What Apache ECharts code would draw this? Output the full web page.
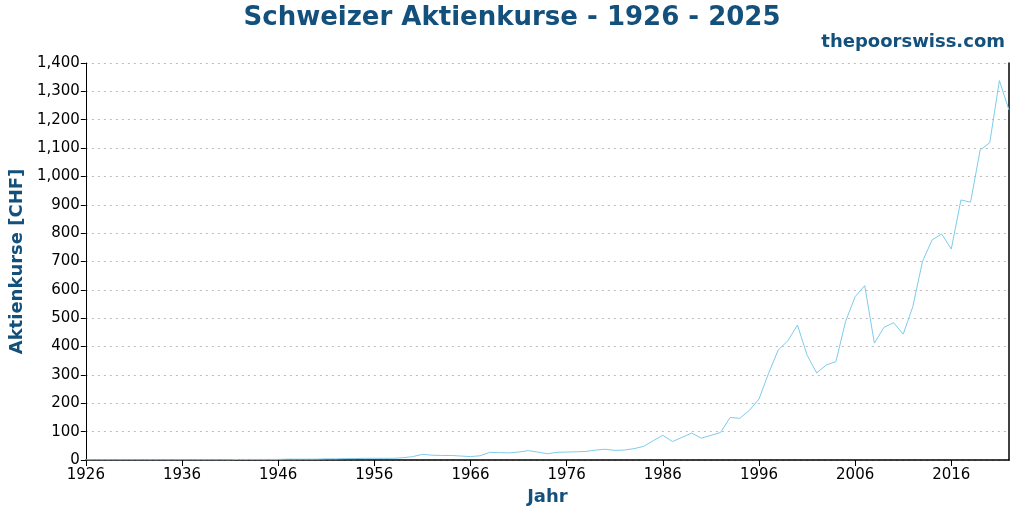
<!DOCTYPE html>
<html><head><meta charset="utf-8">
<script src="https://cdn.jsdelivr.net/npm/echarts@6/dist/echarts.min.js"></script>
<style>html,body{margin:0;padding:0;background:#fff}#c{width:1024px;height:512px}</style>
</head><body><div id="c"></div>
<script>
const years = [];
for (let y = 1926; y <= 2022; y++) years.push(String(y));
const prices = [
 1,1,1,1,1,1,1,1,1,1, // 1926-1935
 1,1,1,1,1,1,2,2,2,2, // 1936-1945
 2,3,3,3,3,4,4,5,5,6, // 1946-1955
 6,6,6,8,12,20,17,16,16,14, // 1956-1965
 12,15,27,26,25,28,33,28,22,27, // 1966-1975
 28,29,30,35,38,34,35,40,48,68, // 1976-1985
 87,65,80,95,77,87,97,150,147,175, // 1986-1995
 215,306,388,420,476,370,307,335,347,488, // 1996-2005
 576,615,412,468,484,444,541,700,776,797, // 2006-2015
 744,917,909,1093,1119,1338,1234 // 2016-2022
];
const blue = '#13507c';
const chart = echarts.init(document.getElementById('c'));
chart.setOption({
  animation:false,
  title:[{text:'Schweizer Aktienkurse - 1926 - 2025',left:'center',top:0,textStyle:{color:blue,fontSize:26,fontWeight:'bold',fontFamily:'DejaVu Sans'}},
         {text:'thepoorswiss.com',right:14,top:28,textStyle:{color:blue,fontSize:18,fontWeight:'bold',fontFamily:'DejaVu Sans'}}],
  grid:{left:79,right:15,top:63,bottom:52},
  xAxis:{type:'category',data:years,boundaryGap:false,name:'Jahr',nameLocation:'middle',nameGap:28,
    nameTextStyle:{color:blue,fontSize:18,fontWeight:'bold',fontFamily:'DejaVu Sans'},
    axisLine:{lineStyle:{color:'#000',width:1.5}},axisTick:{interval:9,length:6,lineStyle:{color:'#000'}},
    axisLabel:{interval:9,color:'#000',fontSize:15,fontFamily:'DejaVu Sans'},splitLine:{show:false}},
  yAxis:[{type:'value',min:0,max:1400,interval:100,name:'Aktienkurse [CHF]',nameLocation:'middle',nameGap:52,
    nameTextStyle:{color:blue,fontSize:18,fontWeight:'bold',fontFamily:'DejaVu Sans'},
    axisLine:{show:true,lineStyle:{color:'#000'}},axisTick:{show:true,length:5,lineStyle:{color:'#000'}},
    axisLabel:{color:'#000',fontSize:15,fontFamily:'DejaVu Sans',margin:6},
    splitLine:{lineStyle:{color:'#bbb',type:[2,4]}}},
   {type:'value',min:0,max:1400,position:'right',axisLine:{show:true,lineStyle:{color:'#000',width:1.5}},
    axisTick:{show:false},axisLabel:{show:false},splitLine:{show:false}}],
  series:[{type:'line',data:prices,showSymbol:false,lineStyle:{color:'#7ecbea',width:1},itemStyle:{color:'#7ecbea'}}]
});
</script></body></html>
